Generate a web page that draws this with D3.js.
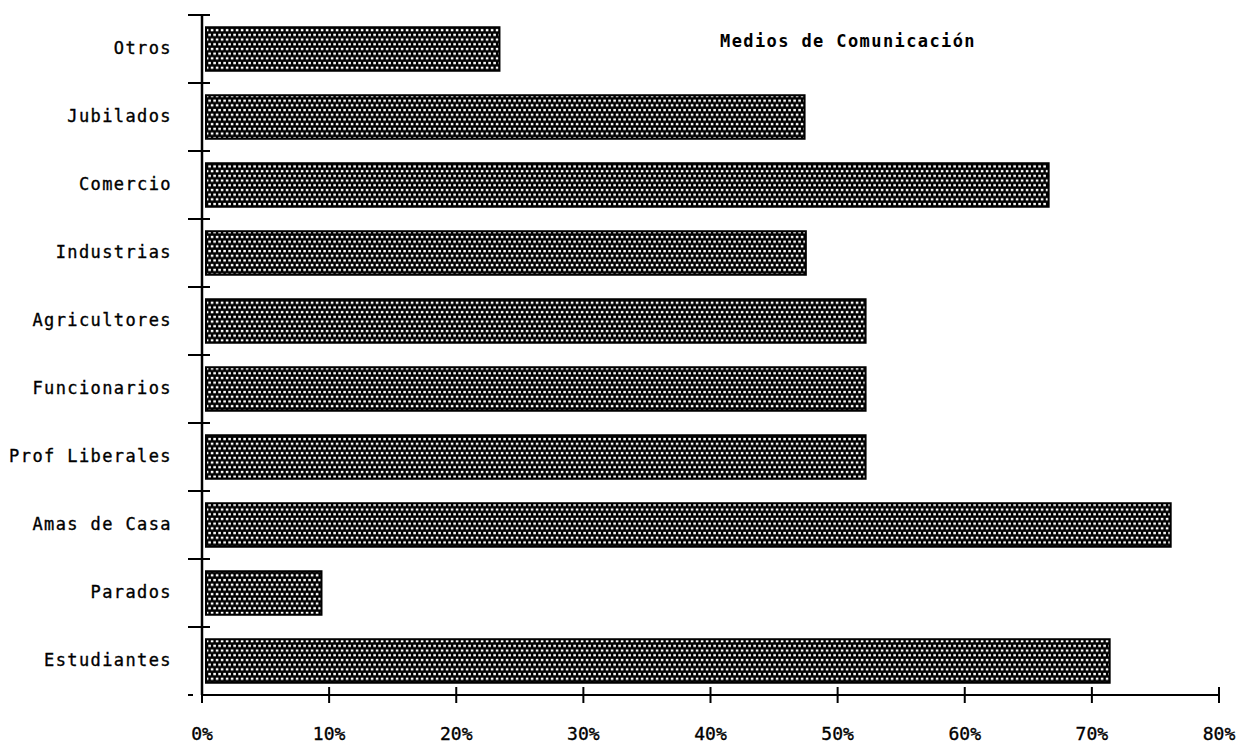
<!DOCTYPE html>
<html><head><meta charset="utf-8">
<script src="https://cdn.jsdelivr.net/npm/d3@7"></script>
<style>body{margin:0;background:#fff;} svg{display:block;}</style>
</head><body>
<svg id="c" width="1248" height="748"></svg>
<script>
const categories = ["Otros","Jubilados","Comercio","Industrias","Agricultores","Funcionarios","Prof Liberales","Amas de Casa","Parados","Estudiantes"];
const values = [23.4, 47.4, 66.6, 47.5, 52.2, 52.2, 52.2, 76.2, 9.4, 71.4];
const xTicks = [0,10,20,30,40,50,60,70,80];
const title = "Medios de Comunicación";

const svg = d3.select("#c");
const font = "'DejaVu Sans Mono', 'Liberation Mono', monospace";
const x = d3.scaleLinear().domain([0,80]).range([202,1219]);
const y = d3.scaleBand().domain(categories).range([15,695]).paddingInner(0.36).paddingOuter(0.18);
const band = d3.scaleBand().domain(categories).range([15,695]);

const defs = svg.append("defs");
const pat = defs.append("pattern").attr("id","dots").attr("patternUnits","userSpaceOnUse")
  .attr("width",5).attr("height",9.4);
pat.append("rect").attr("width",5).attr("height",9.4).attr("fill","#000");
pat.append("rect").attr("x",0.8).attr("y",0.8).attr("width",2.6).attr("height",2.3).attr("fill","#fff");
pat.append("rect").attr("x",3.3).attr("y",5.5).attr("width",2.6).attr("height",2.3).attr("fill","#fff");
pat.append("rect").attr("x",-1.7).attr("y",5.5).attr("width",2.6).attr("height",2.3).attr("fill","#fff");

// bars
svg.append("g").selectAll("rect").data(categories).join("rect")
  .attr("x", x(0)+4)
  .attr("y", d => y(d))
  .attr("width", (d,i) => x(values[i]) - x(0) - 4)
  .attr("height", y.bandwidth())
  .attr("fill","url(#dots)")
  .attr("stroke","#000").attr("stroke-width",2);

// y axis
const ya = svg.append("g");
ya.append("line").attr("x1",x(0)).attr("x2",x(0)).attr("y1",15).attr("y2",695)
  .attr("stroke","#000").attr("stroke-width",2.5);
const bounds = categories.map(d => band(d));
ya.selectAll("line.t").data(bounds).join("line").attr("class","t")
  .attr("x1",188).attr("x2",210).attr("y1",d=>d).attr("y2",d=>d)
  .attr("stroke","#000").attr("stroke-width",2);
ya.selectAll("text").data(categories).join("text")
  .attr("x",172).attr("y",d => band(d)+band.bandwidth()/2)
  .attr("text-anchor","end").attr("dominant-baseline","middle")
  .attr("font-family",font).attr("font-size",17).attr("letter-spacing",1.4)
  .attr("stroke","#000").attr("stroke-width",0.35)
  .attr("fill","#000").text(d=>d);

// x axis
const xa = svg.append("g");
xa.append("line").attr("x1",x(0)).attr("x2",x(80)).attr("y1",695).attr("y2",695)
  .attr("stroke","#000").attr("stroke-width",2);
xa.selectAll("line.t").data(xTicks).join("line").attr("class","t")
  .attr("x1",d=>x(d)).attr("x2",d=>x(d)).attr("y1",687).attr("y2",703)
  .attr("stroke","#000").attr("stroke-width",2);
xa.append("line").attr("x1",188).attr("x2",193).attr("y1",695).attr("y2",695)
  .attr("stroke","#000").attr("stroke-width",2);
xa.selectAll("text").data(xTicks).join("text")
  .attr("x",d=>x(d)).attr("y",735)
  .attr("text-anchor","middle").attr("dominant-baseline","middle")
  .attr("font-family",font).attr("font-size",18)
  .attr("stroke","#000").attr("stroke-width",0.35)
  .attr("fill","#000").text(d=>d+"%");

// title
svg.append("text").attr("x",720).attr("y",42).attr("dominant-baseline","middle")
  .attr("font-family",font).attr("font-size",17).attr("font-weight","bold")
  .attr("letter-spacing",1.4).attr("fill","#000").text(title);
</script>
</body></html>
